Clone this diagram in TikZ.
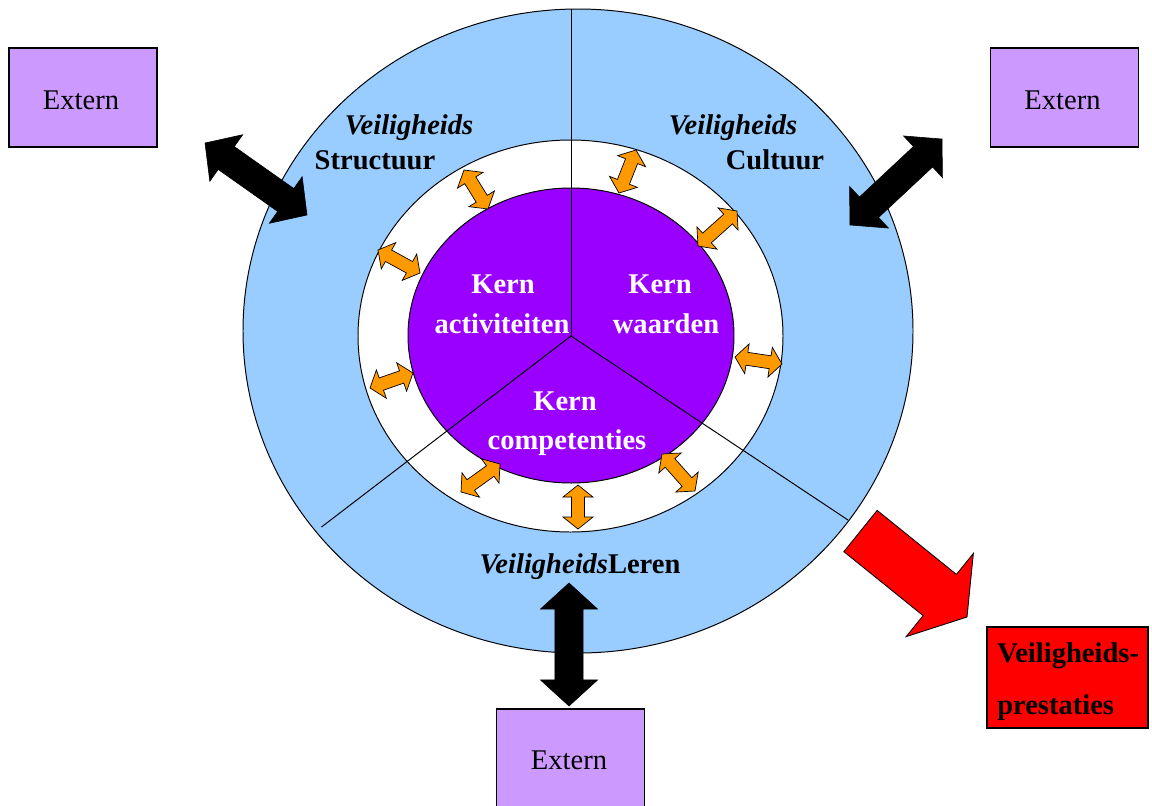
\documentclass[tikz,border=0pt]{standalone}
\usepackage{fontspec}
\setmainfont{Liberation Serif}
\usetikzlibrary{calc}
\definecolor{ringblue}{HTML}{99CCFF}
\definecolor{corepurple}{HTML}{9900FF}
\definecolor{extlilac}{HTML}{CC99FF}
\definecolor{arrorange}{HTML}{FF9900}
\definecolor{perfred}{HTML}{FF0000}
% double arrow polygon: #1 style, #2 from, #3 to, #4 half shaft, #5 half head, #6 head length
\newcommand{\dblarr}[6]{%
  \filldraw[#1] (#2)
    -- ($(#2)!#6!(#3)!#5!90:(#3)$)
    -- ($(#2)!#6!(#3)!#4!90:(#3)$)
    -- ($(#3)!#6!(#2)!#4!-90:(#2)$)
    -- ($(#3)!#6!(#2)!#5!-90:(#2)$)
    -- (#3)
    -- ($(#3)!#6!(#2)!#5!90:(#2)$)
    -- ($(#3)!#6!(#2)!#4!90:(#2)$)
    -- ($(#2)!#6!(#3)!#4!-90:(#3)$)
    -- ($(#2)!#6!(#3)!#5!-90:(#3)$)
    -- cycle;}
\tikzset{
  txt/.style={font=\fontsize{20.3pt}{24pt}\selectfont, inner sep=0pt},
  extbox/.style={draw=black, line width=0.8pt, fill=extlilac, minimum width=3.7cm, minimum height=2.475cm, inner sep=0pt},
  orangearr/.style={fill=arrorange, draw=black, line width=0.5pt, line join=miter},
  blackarr/.style={fill=black, draw=black, line width=0.4pt},
  redarr/.style={fill=perfred, draw=black, line width=0.6pt},
  divider/.style={draw=black, line width=0.7pt},
}
\begin{document}
\begin{tikzpicture}[x=0.025cm, y=-0.025cm]
\useasboundingbox (0,0) rectangle (1152,805);
\clip (0,0) rectangle (1152,805);

% rings
\filldraw[fill=ringblue, draw=black, line width=0.7pt] (578,331) ellipse [x radius=335, y radius=322];
\filldraw[fill=white, draw=black, line width=0.7pt] (570.5,336) ellipse [x radius=212.5, y radius=196];
\filldraw[fill=corepurple, draw=black, line width=0.7pt] (571,335.5) ellipse [x radius=163, y radius=147.5];

% dividers
\coordinate (c) at (571,336);
\coordinate (ltop) at (571,9);
\coordinate (lbl) at (321.5,527);
\coordinate (lbr) at (848,520);
\draw[divider] (c) -- (ltop);
\draw[divider] (c) -- (lbl);
\draw[divider] (c) -- (lbr);

% orange arrows
\coordinate (o1a) at (464,170); \coordinate (o1b) at (488,209);
\coordinate (o2a) at (378,250); \coordinate (o2b) at (420,273);
\coordinate (o3a) at (370,388); \coordinate (o3b) at (413,373);
\coordinate (o4a) at (461,492); \coordinate (o4b) at (500,464);
\coordinate (o5a) at (578,485); \coordinate (o5b) at (578,529);
\coordinate (o6a) at (662,454); \coordinate (o6b) at (695,491);
\coordinate (o7a) at (735,357); \coordinate (o7b) at (782,364);
\coordinate (o8a) at (698,246); \coordinate (o8b) at (737,211);
\coordinate (o9a) at (619,193); \coordinate (o9b) at (636,150);
\foreach \i in {1,...,9}{\dblarr{orangearr}{o\i a}{o\i b}{4.62pt}{10.67pt}{8.54pt}}

% texts in ring
\node[txt, anchor=base] (vs) at (409,134) {\bfseries\itshape Veiligheids};
\node[txt, anchor=base] (st) at (375,169) {\bfseries Structuur};
\node[txt, anchor=base] (vc) at (733,134) {\bfseries\itshape Veiligheids};
\node[txt, anchor=base] (cu) at (775,169) {\bfseries Cultuur};
\node[txt, anchor=base] (vl) at (580,573) {{\bfseries\itshape Veiligheids}\textbf{Leren}};

% core texts
\node[txt, anchor=base, text=white] (k1) at (503,293) {\bfseries Kern};
\node[txt, anchor=base, text=white] (a1) at (502,333) {\bfseries activiteiten};
\node[txt, anchor=base, text=white] (k2) at (660,293) {\bfseries Kern};
\node[txt, anchor=base, text=white] (w2) at (666,333) {\bfseries waarden};
\node[txt, anchor=base, text=white] (k3) at (565,410) {\bfseries Kern};
\node[txt, anchor=base, text=white] (c3) at (567,449) {\bfseries competenties};

% external boxes
\node[extbox] (ext1) at (83,97.5) {};
\node[txt, anchor=base] (ext1t) at (81,109) {Extern};
\node[extbox] (ext2) at (1064.5,97.5) {};
\node[txt, anchor=base] (ext2t) at (1062.5,109) {Extern};
\node[extbox] (ext3) at (570.5,758.5) {};
\node[txt, anchor=base] (ext3t) at (569,769) {Extern};

% performance box
\node[draw=black, line width=0.8pt, fill=perfred, minimum width=4.025cm, minimum height=2.525cm, inner sep=0pt] (perf) at (1067.5,677.5) {};
\node[txt, anchor=base west] (p1) at (997,662) {\bfseries Veiligheids-};
\node[txt, anchor=base west] (p2) at (997,714) {\bfseries prestaties};

% black double arrows
\coordinate (xa1) at (205,143); \coordinate (xa2) at (307,215);
\coordinate (xb1) at (942,139); \coordinate (xb2) at (850,225);
\coordinate (xc1) at (569,583); \coordinate (xc2) at (569,706);
\dblarr{blackarr}{xa1}{xa2}{9.96pt}{20.27pt}{18.5pt}
\dblarr{blackarr}{xb1}{xb2}{9.96pt}{20.27pt}{18.5pt}
\dblarr{blackarr}{xc1}{xc2}{9.96pt}{20.27pt}{18.5pt}

% red arrow
\coordinate (ra) at (860.5,531);
\coordinate (rb) at (967,617);
\filldraw[redarr] ($(ra)!18.85pt!90:(rb)$)
  -- ($(rb)!24.9pt!(ra)!18.85pt!-90:(ra)$)
  -- ($(rb)!24.9pt!(ra)!38.05pt!-90:(ra)$)
  -- (rb)
  -- ($(rb)!24.9pt!(ra)!38.05pt!90:(ra)$)
  -- ($(rb)!24.9pt!(ra)!18.85pt!90:(ra)$)
  -- ($(ra)!18.85pt!-90:(rb)$)
  -- cycle;
\end{tikzpicture}
\end{document}
